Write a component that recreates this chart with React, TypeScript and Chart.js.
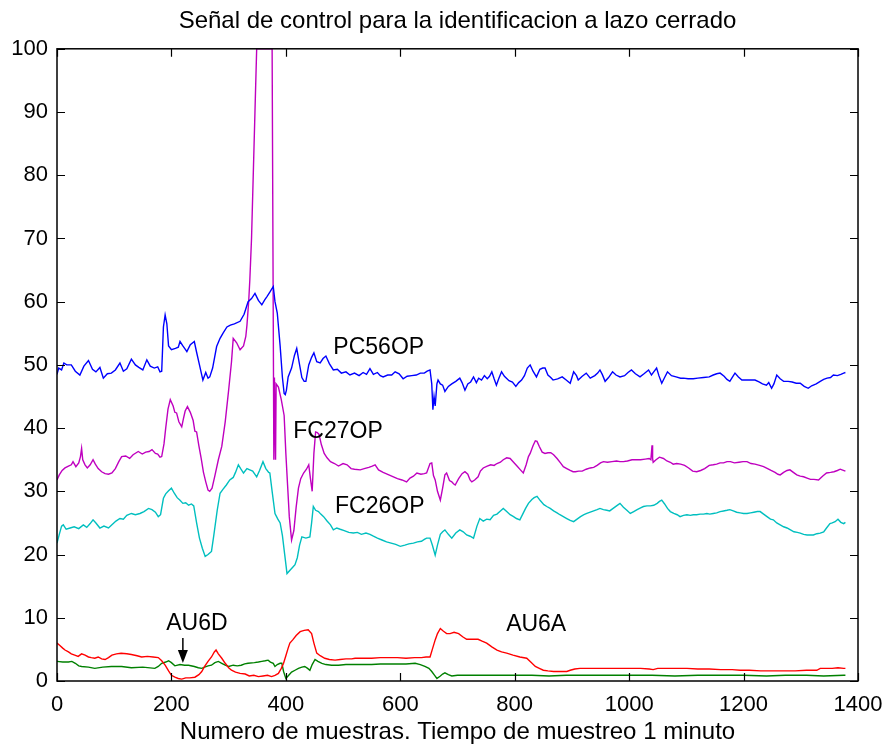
import React, { useEffect, useRef } from 'react';
import { Chart, registerables } from 'chart.js';

Chart.register(...registerables);

const FONT = '"Liberation Sans", Arial, sans-serif';

const chartTitle = 'Señal de control para la identificacion a lazo cerrado';
const xAxisLabel = 'Numero de muestras. Tiempo de muestreo 1 minuto';
const xRange = [0, 1400];
const yRange = [0, 100];
const xTickStep = 200;
const yTickStep = 10;

type P = [number, number];

const pc56op: P[] = [
  [0,48.5],[3,49.5],[8,49.2],[12,50.3],[17,50],[25,50],[32,49],[40,48.4],[47,49.8],[55,50.7],[62,49.3],[68,48.9],[75,49.6],[81,47.9],[88,48.6],[95,48.7],[102,49.2],[110,50.3],[116,49],[122,49.4],[130,50.9],[137,50],[143,49.6],[150,49.2],[157,50.8],[163,49.8],[170,49.5],[176,49.7],[180,48.9],[183,49],[186,56],[189,57.9],[192,56.5],[195,53],[200,52.4],[207,52.6],[212,52.8],[215,53.7],[220,53],[224,52.5],[227,52.1],[233,53.2],[240,53.7],[244,52],[249,50],[255,47.6],[260,48.8],[264,47.9],[267,48.1],[272,49.5],[279,52.9],[285,54.2],[290,55],[297,56],[303,56.3],[310,56.5],[320,56.9],[327,58],[334,60],[340,60.5],[346,61.3],[352,60.2],[358,59.5],[363,60.3],[367,60.8],[372,61.5],[378,62.4],[381,60],[385,58.2],[390,53],[394,48],[397,45.5],[399,45.3],[401,46],[404,48.1],[410,49.5],[415,51.5],[419,52.6],[423,50.5],[428,48],[432,47.4],[435,47.4],[440,50],[445,51.2],[449,51.9],[454,50.5],[460,50.3],[465,51],[470,51.4],[476,50.2],[483,49.2],[490,49.3],[497,48.7],[505,48.9],[512,48.4],[520,48.7],[528,48.3],[535,48.8],[541,48.5],[547,49.4],[553,48.5],[560,48.8],[565,48.3],[570,48.1],[578,48.4],[585,48.4],[591,48.9],[598,48.6],[605,47.8],[612,48.2],[620,48.3],[628,48.4],[635,48.7],[642,48.7],[647,49],[652,49.2],[655,47],[657,42.9],[659,45],[661,43.5],[664,47],[666,47.6],[670,47],[674,46.8],[678,45.8],[684,46.6],[690,47],[697,47.4],[704,47.9],[708,47.2],[713,46],[718,47],[723,47.3],[728,48.1],[733,47.2],[737,47.9],[742,47.6],[747,48.3],[752,47.8],[756,48.2],[760,48.9],[764,47.8],[768,46.8],[772,47.8],[777,48.9],[782,48.2],[790,47.5],[796,47.3],[802,46.6],[807,47.2],[812,47.6],[817,48.3],[822,49.5],[827,50],[832,49],[838,48.1],[844,49.3],[849,49.5],[853,49.5],[858,48.4],[863,48],[867,47.6],[875,47.8],[883,48.1],[890,47.6],[897,47.1],[903,48.9],[908,48.3],[911,47.6],[918,48.2],[925,48.7],[932,47.9],[940,48.3],[945,48.7],[949,49.2],[953,48.5],[958,47.4],[964,48],[971,48.9],[977,48.4],[984,48.1],[992,48.3],[998,48.8],[1004,49.2],[1011,48.6],[1019,48.1],[1026,48.6],[1034,49.2],[1039,48.4],[1043,48.9],[1048,49.5],[1052,48.3],[1057,47.1],[1062,48],[1067,48.9],[1074,48.3],[1082,48.1],[1090,47.9],[1095,47.9],[1103,47.8],[1112,47.8],[1120,47.9],[1130,48],[1140,48.1],[1147,48.4],[1153,48.6],[1159,48.7],[1166,48.2],[1171,47.7],[1176,47.4],[1180,48],[1185,48.7],[1191,48.1],[1197,47.6],[1205,47.6],[1213,47.6],[1220,47.6],[1227,47.3],[1233,47],[1240,46.8],[1244,47.2],[1249,46.3],[1253,47],[1258,48.4],[1264,47.8],[1270,47.4],[1278,47.4],[1285,47.3],[1292,47.1],[1299,47.1],[1306,46.6],[1313,46.3],[1319,46.7],[1327,47],[1334,47.4],[1340,47.7],[1346,47.9],[1352,48],[1357,48.4],[1364,48.3],[1370,48.5],[1375,48.7],[1378,48.8]
];

const fc27op: P[] = [
  [0,31.8],[4,32.6],[9,33.3],[14,33.7],[20,34],[25,34.2],[28,34.7],[33,33.9],[38,34.5],[41,35.5],[43,36.8],[45,35],[49,34.2],[53,33.7],[58,34.2],[63,35],[67,34.3],[72,33.6],[78,33.1],[84,32.8],[90,32.7],[96,32.9],[102,33.6],[108,34.7],[113,35.5],[120,35.6],[127,35.2],[133,35.8],[142,36.3],[149,35.9],[155,36.2],[161,36.3],[166,36.6],[172,36],[176,35.9],[180,35.4],[183,35.5],[187,37.5],[190,40],[194,43],[198,44.5],[203,43.5],[206,42.5],[209,42.4],[213,41],[218,40.2],[221,41.5],[224,42.7],[228,43.4],[233,42.5],[238,41.2],[241,39.5],[244,39.4],[248,37.2],[252,35.2],[256,33],[260,31.5],[264,30.2],[267,30],[271,30.5],[276,32.5],[282,35],[288,37.1],[294,41],[300,46],[305,50.5],[308,54.2],[314,53.5],[320,52.4],[326,53],[330,54.5],[332,56.3],[335,60],[337,63.4],[340,70],[343,80],[346,90],[349,100],[376,100],[379,35],[380,48],[382,35],[383,47],[387,46.5],[392,44.5],[397,42],[400,36],[403,31],[406,26],[410,22.3],[414,23.8],[418,27.5],[422,30.5],[426,32],[431,32.9],[436,33.5],[440,34.2],[443,32],[446,30],[449,36],[452,39.4],[455,39.3],[458,39],[462,37.4],[467,36],[472,35.3],[478,34.7],[485,34.4],[492,34],[500,34.4],[507,34.2],[514,33.6],[520,33.5],[530,33.4],[537,33.6],[545,33.8],[551,34],[556,34.2],[562,33.4],[570,33],[578,32.7],[588,32.3],[595,32],[603,31.8],[611,31.5],[617,32.1],[623,32.4],[629,32.9],[636,32.7],[642,32.8],[646,32.9],[652,34.4],[655,34.5],[658,32.5],[661,31.8],[665,30],[670,28.6],[674,30.5],[678,32.6],[681,32.9],[686,31.7],[690,31.5],[693,31.2],[696,31],[702,32],[708,32.8],[713,33.1],[718,32.7],[722,31.8],[725,31.5],[730,31.8],[736,32.3],[740,33.2],[745,33.7],[752,34],[758,34.2],[764,34.1],[769,34.4],[775,34.6],[780,35],[786,35.3],[792,35.2],[798,34.6],[804,34],[810,33.4],[815,32.9],[820,34.2],[824,35.5],[827,36],[832,37.2],[836,38],[839,37.9],[843,37.1],[848,36.2],[853,36],[858,36.1],[863,36.1],[868,35.8],[874,35.2],[880,34.5],[885,33.9],[891,33.6],[897,33.3],[902,33.1],[906,33.1],[912,33.2],[918,33.2],[925,33.5],[932,33.7],[938,33.8],[944,34.1],[950,34.5],[955,34.7],[962,34.6],[970,34.7],[978,34.8],[984,34.7],[990,34.7],[997,34.8],[1005,35],[1013,35],[1020,35],[1028,35.1],[1035,35.2],[1038,35],[1040,37.3],[1041,35.2],[1042,34.6],[1047,35],[1053,35.4],[1060,35.2],[1066,34.8],[1072,34.6],[1077,34.3],[1083,34.4],[1090,34.3],[1097,34.1],[1104,33.7],[1111,33.2],[1118,33.1],[1125,33.3],[1132,33.6],[1140,34.1],[1147,34.2],[1153,34.3],[1159,34.5],[1165,34.5],[1171,34.7],[1177,34.7],[1184,34.5],[1192,34.6],[1199,34.7],[1206,34.7],[1213,34.4],[1220,34.3],[1228,34.1],[1235,33.9],[1242,33.6],[1248,33.3],[1255,33],[1260,32.7],[1264,32.6],[1270,33],[1276,33.3],[1281,33.4],[1287,33],[1293,32.6],[1299,32.4],[1305,32.3],[1311,32.1],[1317,31.9],[1323,31.9],[1331,31.8],[1338,32.4],[1345,32.9],[1352,33],[1358,33.1],[1364,33.3],[1369,33.5],[1372,33.4],[1378,33.2]
];

const fc26op: P[] = [
  [0,21.8],[4,23.2],[8,24.5],[11,24.7],[16,24],[23,24.2],[30,24.4],[38,24.1],[46,24.7],[52,24.3],[58,24.9],[63,25.5],[68,25],[75,24.2],[82,24.5],[90,24.2],[96,24.7],[103,25.3],[110,25.7],[116,25.6],[122,26.2],[130,26.5],[137,26.3],[145,26.5],[152,26.8],[160,27.3],[166,27.1],[172,26.7],[177,26],[181,26.3],[186,28.9],[190,29.6],[195,30.1],[200,30.5],[205,29.7],[210,29],[215,28.6],[220,28.1],[225,28.2],[230,27.8],[235,28],[239,27.7],[244,25],[249,22.6],[254,21],[259,19.7],[264,20],[270,20.5],[274,23],[280,27],[285,29.7],[290,30.3],[296,31],[302,31.8],[308,32.2],[312,33],[317,34.2],[321,33.6],[326,32.9],[332,33.6],[337,33.4],[342,33.2],[349,32.3],[354,33.3],[360,34.7],[365,33.6],[370,33],[372,32.9],[376,30],[381,26.5],[386,25.6],[390,25],[394,23],[398,20],[402,17],[408,17.6],[412,18],[416,18.4],[420,19.5],[424,21.5],[428,22.8],[435,22.6],[442,22.8],[445,25],[448,27.6],[452,27],[457,26.8],[461,26.4],[466,26],[472,25.3],[478,24.7],[483,23.9],[489,24.2],[495,24],[502,23.8],[510,23.5],[518,23.4],[525,23.5],[532,23.2],[540,23.4],[547,23.2],[553,22.9],[560,22.6],[568,22.3],[576,22],[584,21.8],[592,21.6],[600,21.3],[608,21.5],[615,21.7],[623,21.8],[630,22],[637,22.1],[642,22.4],[646,22.6],[652,22.6],[656,21.5],[661,19.9],[665,21.5],[670,23.2],[674,23.6],[678,23.9],[684,23.2],[690,22.6],[697,23.4],[704,23.9],[710,23.6],[716,23.1],[722,22.9],[728,22.6],[734,24.5],[739,25.7],[745,25.3],[751,25.6],[757,25.5],[763,26.2],[769,26.4],[775,26.9],[780,27.3],[786,26.8],[792,26.3],[798,26],[803,25.7],[809,25.5],[814,26.4],[819,27.3],[824,28.1],[830,28.7],[834,29],[839,29.2],[845,28.5],[851,27.9],[856,27.6],[862,27.3],[868,26.9],[874,26.6],[879,26.3],[885,26],[891,25.7],[897,25.4],[903,25.2],[909,25.6],[915,26],[921,26.3],[926,26.5],[932,26.7],[938,26.9],[944,27.1],[949,27.3],[955,27.1],[961,27],[966,26.9],[972,27.3],[978,27.7],[984,28.1],[990,27.5],[996,27],[1002,26.5],[1008,26.8],[1014,27.1],[1020,27.4],[1025,27.6],[1031,27.7],[1037,27.7],[1043,27.8],[1049,28.1],[1053,28.4],[1057,28.6],[1062,28],[1067,27.3],[1072,26.8],[1078,26.5],[1084,26.3],[1089,26],[1095,26.2],[1101,26.3],[1107,26.2],[1112,26.3],[1118,26.3],[1124,26.4],[1130,26.4],[1136,26.5],[1141,26.4],[1147,26.5],[1153,26.6],[1159,26.8],[1165,26.9],[1171,27],[1176,27.1],[1182,26.9],[1188,26.7],[1194,26.6],[1200,26.5],[1206,26.5],[1212,26.6],[1218,26.7],[1224,26.8],[1229,26.8],[1235,26.4],[1241,26],[1247,25.6],[1252,25.5],[1258,25],[1264,24.7],[1270,24.4],[1276,24.2],[1282,23.9],[1288,23.6],[1294,23.5],[1299,23.4],[1305,23.2],[1311,23.1],[1317,23.1],[1322,23.1],[1328,23.3],[1334,23.4],[1340,23.6],[1345,24.2],[1351,24.9],[1355,25],[1360,25.2],[1365,25.6],[1370,25.1],[1375,24.9],[1378,25.1]
];

const au6a: P[] = [
  [0,6],[5,5.6],[10,5.2],[14,4.9],[20,4.6],[25,4.3],[31,4.1],[37,3.9],[43,4.3],[49,4.1],[55,3.8],[60,3.7],[66,3.6],[72,3.8],[78,3.5],[84,3.4],[90,3.7],[96,4.1],[104,4.3],[112,4.4],[122,4.3],[130,4.2],[140,4],[148,3.8],[158,3.9],[168,3.8],[177,3.7],[183,3.2],[189,2.5],[195,1.6],[200,0.9],[206,0.6],[212,0.4],[218,0.3],[225,0.5],[232,0.5],[241,0.6],[248,1],[253,1.5],[258,2.3],[264,3.1],[270,3.8],[275,4.6],[278,4.9],[282,4.3],[288,3.6],[294,2.8],[300,2.1],[305,1.7],[312,1.4],[320,1.2],[329,1.1],[336,0.8],[344,0.9],[352,0.7],[360,0.8],[368,0.9],[375,0.7],[381,0.9],[387,1.2],[392,2],[396,2.8],[400,4],[404,5.2],[407,6],[412,6.5],[418,7.2],[425,7.8],[432,8],[439,8.1],[445,7.5],[449,6],[454,4.4],[460,4],[468,3.6],[476,3.4],[486,3.3],[495,3.4],[505,3.5],[515,3.5],[521,3.6],[535,3.6],[550,3.6],[565,3.7],[579,3.7],[595,3.7],[610,3.6],[625,3.7],[637,3.7],[645,3.8],[652,3.8],[656,5],[661,6.5],[665,7.5],[670,8.3],[675,7.9],[681,7.5],[687,7.5],[694,7.7],[702,7.5],[709,7],[716,6.6],[726,6.6],[736,6.6],[743,6.3],[751,6],[760,5.4],[769,4.9],[777,4.6],[786,4.4],[797,4.1],[809,3.8],[821,3.6],[828,3],[836,2.3],[843,2],[850,1.7],[858,1.6],[868,1.5],[880,1.5],[891,1.5],[897,1.7],[905,1.9],[914,2],[930,2],[950,2],[970,2],[984,2],[1000,2],[1020,2],[1035,1.9],[1042,1.8],[1050,2],[1070,2],[1090,2],[1101,2],[1120,1.9],[1140,1.9],[1160,1.8],[1180,1.8],[1194,1.7],[1210,1.7],[1230,1.6],[1246,1.6],[1270,1.6],[1290,1.6],[1310,1.7],[1328,1.7],[1334,2],[1355,2],[1365,2.1],[1375,2],[1378,2]
];

const au6d: P[] = [
  [0,3.1],[10,3],[20,3],[26,3.1],[32,2.8],[38,2.4],[43,2.3],[55,2.2],[66,2],[80,2.2],[95,2.3],[113,2.3],[130,2.1],[150,2.2],[171,2],[177,2.3],[183,2.8],[190,3],[195,3.2],[200,2.9],[206,2.4],[215,2.6],[223,2.5],[230,2.5],[240,2.3],[247,2.1],[253,2],[258,2.2],[264,2.4],[270,2.5],[276,2.9],[282,3.1],[288,2.8],[294,2.5],[300,2.3],[308,2.5],[315,2.4],[322,2.5],[328,2.7],[334,2.8],[345,2.9],[352,3],[358,3.1],[364,3.2],[369,3.3],[373,3],[378,2.8],[381,2.3],[385,2.6],[390,2.8],[393,2.8],[396,1.5],[400,0.4],[405,0.9],[410,1.4],[416,1.7],[422,2],[428,2.2],[433,2.3],[438,2],[442,1.7],[446,2.6],[451,3.4],[456,3.1],[463,2.8],[470,2.6],[480,2.5],[492,2.5],[505,2.6],[520,2.6],[535,2.6],[550,2.6],[565,2.7],[580,2.7],[595,2.7],[610,2.7],[626,2.8],[635,2.6],[643,2.3],[650,2],[655,1.5],[660,0.9],[664,0.4],[670,0.8],[674,1.1],[678,1.3],[684,1],[690,0.8],[700,0.9],[719,0.9],[740,0.9],[760,0.9],[780,0.9],[807,0.9],[830,0.9],[860,0.8],[890,0.9],[923,0.9],[960,0.9],[1000,0.9],[1040,0.9],[1080,0.8],[1120,0.9],[1156,0.9],[1200,0.9],[1240,0.8],[1273,0.9],[1310,0.9],[1340,0.8],[1375,0.9],[1378,0.9]
];

const seriesNames = ['PC56OP', 'FC27OP', 'FC26OP', 'AU6A', 'AU6D'];
const seriesColors = ['#0000ff', '#bf00bf', '#00bfbf', '#ff0000', '#008000'];
const seriesData = [pc56op, fc27op, fc26op, au6a, au6d];

// text annotations in data coordinates (left edge, vertical centre)
const annotationTexts = ['PC56OP', 'FC27OP', 'FC26OP', 'AU6D', 'AU6A'];
const annotationX = [483, 413, 486, 191, 785];
const annotationY = [52.8, 39.5, 27.6, 9.0, 8.9];
// arrow under AU6D: x, shaft top, head base, tip
const arrowX = 220;
const arrowYs = [6.8, 4.9, 2.85];

const framePlugin = {
  id: 'matlabFrame',
  afterDatasetsDraw(chart: any) {
    const { ctx, chartArea, scales } = chart;
    const { left, right, top, bottom } = chartArea;
    const xs = scales.x;
    const ys = scales.y;
    ctx.save();
    ctx.strokeStyle = '#000';
    ctx.lineWidth = 1.5;
    ctx.strokeRect(left, top, right - left, bottom - top);
    ctx.lineWidth = 1.2;
    const tl = 8;
    ctx.beginPath();
    xs.ticks.forEach((t: any) => {
      const px = Math.round(xs.getPixelForValue(t.value)) + 0.5;
      ctx.moveTo(px, bottom); ctx.lineTo(px, bottom - tl);
      ctx.moveTo(px, top); ctx.lineTo(px, top + tl);
    });
    ys.ticks.forEach((t: any) => {
      const py = Math.round(ys.getPixelForValue(t.value)) + 0.5;
      ctx.moveTo(left, py); ctx.lineTo(left + tl, py);
      ctx.moveTo(right, py); ctx.lineTo(right - tl, py);
    });
    ctx.stroke();

    ctx.fillStyle = '#000';
    ctx.font = `23px ${FONT}`;
    ctx.textAlign = 'left';
    ctx.textBaseline = 'middle';
    annotationTexts.forEach((txt, i) => {
      ctx.fillText(txt, xs.getPixelForValue(annotationX[i]), ys.getPixelForValue(annotationY[i]));
    });

    const ax = xs.getPixelForValue(arrowX);
    const y0 = ys.getPixelForValue(arrowYs[0]);
    const y1 = ys.getPixelForValue(arrowYs[1]);
    const y2 = ys.getPixelForValue(arrowYs[2]);
    ctx.lineWidth = 1.5;
    ctx.beginPath();
    ctx.moveTo(ax, y0); ctx.lineTo(ax, y1);
    ctx.stroke();
    ctx.beginPath();
    ctx.moveTo(ax - 5, y1); ctx.lineTo(ax + 5, y1); ctx.lineTo(ax, y2); ctx.closePath();
    ctx.fill();
    ctx.restore();
  },
};

export default function App() {
  const ref = useRef<HTMLCanvasElement | null>(null);
  useEffect(() => {
    if (!ref.current) return;
    const chart = new Chart(ref.current, {
      type: 'line',
      data: {
        datasets: seriesData.map((d, i) => ({
          label: seriesNames[i],
          data: d.map(([x, y]) => ({ x, y })),
          borderColor: seriesColors[i],
          backgroundColor: seriesColors[i],
          borderWidth: 1.4,
          pointRadius: 0,
          tension: 0,
          fill: false,
        })),
      },
      options: {
        responsive: false,
        animation: false,
        layout: { padding: { left: 0, right: 29, top: 0, bottom: 0 } },
        plugins: {
          legend: { display: false },
          tooltip: { enabled: false },
          title: {
            display: true,
            text: chartTitle,
            fullSize: false,
            color: '#000',
            font: { family: FONT, size: 24, weight: 'normal', lineHeight: 1.2 },
            padding: { top: 7, bottom: 13 },
          },
        },
        scales: {
          x: {
            type: 'linear',
            min: xRange[0],
            max: xRange[1],
            ticks: {
              stepSize: xTickStep,
              color: '#000',
              font: { family: FONT, size: 22 },
              padding: 11,
              maxRotation: 0,
              autoSkip: false,
              callback: (v: any) => String(v),
            },
            grid: { display: false, drawTicks: false },
            border: { display: false },
            title: {
              display: true,
              text: xAxisLabel,
              color: '#000',
              font: { family: FONT, size: 24, lineHeight: 1.2 },
              padding: { top: 0, bottom: 0 },
            },
            afterFit: (s: any) => { s.height = 66; s.paddingLeft = 0; s.paddingRight = 0; },
          },
          y: {
            type: 'linear',
            min: yRange[0],
            max: yRange[1],
            ticks: {
              stepSize: yTickStep,
              color: '#000',
              font: { family: FONT, size: 22 },
              padding: 9,
              callback: (v: any) => String(v),
            },
            grid: { display: false, drawTicks: false },
            border: { display: false },
            afterFit: (s: any) => { s.width = 57; s.paddingTop = 0; s.paddingBottom = 0; },
          },
        },
      },
      plugins: [framePlugin],
    } as any);
    return () => chart.destroy();
  }, []);
  return (
    <div style={{ position: 'fixed', left: 0, top: 0, width: 887, height: 747, background: '#fff' }}>
      <canvas ref={ref} width={887} height={747} style={{ display: 'block' }} />
    </div>
  );
}
